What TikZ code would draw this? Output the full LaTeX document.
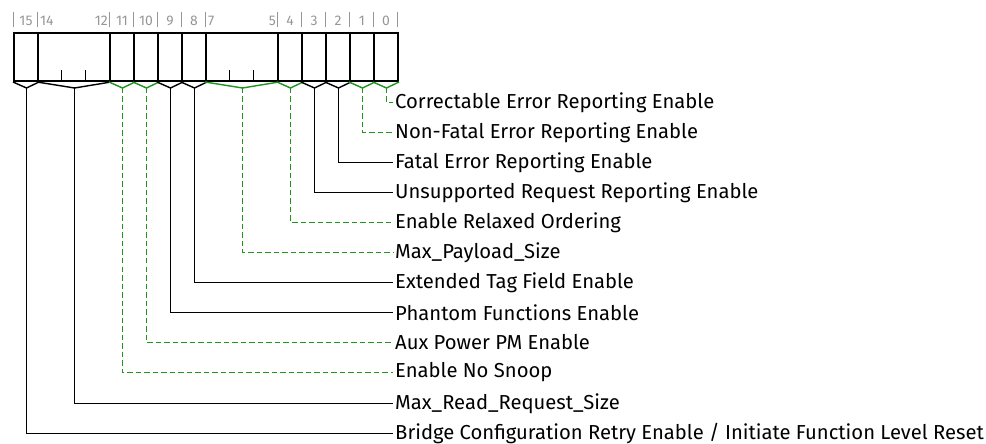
\documentclass[tikz,border=0pt]{standalone}
\usepackage{fontspec}
\setmainfont{Fira Sans}
\usetikzlibrary{calc}
\definecolor{fldgreen}{RGB}{30,150,30}
\definecolor{numgray}{RGB}{150,150,150}
\tikzset{
  field/.style = {draw, line width=2bp, minimum height=48bp, inner sep=0pt, anchor=north west},
  tick/.style  = {line width=1bp},
  sep/.style   = {draw=numgray, line width=1bp},
  num/.style   = {text=numgray, font=\fontsize{14}{14}\selectfont, inner sep=1pt},
  blk/.style   = {line width=1.4bp, black},
  grn/.style   = {line width=1.4bp, fldgreen},
  lbl/.style   = {anchor=west, inner sep=2bp, font=\fontsize{20.3}{20.3}\selectfont}
}

\begin{document}
\begin{tikzpicture}[x=1bp, y=-1bp]
  \useasboundingbox (0,0) rectangle (986,444);
  % register fields, bit numbers and connectors
  \foreach \hi/\lo/\kind in {15/15/blk, 14/12/blk, 11/11/grn, 10/10/grn,
                             9/9/blk, 8/8/blk, 7/5/grn, 4/4/grn,
                             3/3/blk, 2/2/blk, 1/1/grn, 0/0/grn} {
    \pgfmathsetmacro\xl{13+24*(15-\hi)}
    \pgfmathsetmacro\xw{24*(\hi-\lo+1)}
    \node[field, minimum width=\xw bp] (f\lo) at (\xl,32) {};
    \draw[sep] (\xl,12) -- (\xl,27);
    \ifnum\hi=\lo
      \node[num] (n\lo) at ($(f\lo.north)+(0,-11)$) {\lo};
    \else
      \node[num, anchor=west] (n\hi) at ($(f\lo.north west)+(2,-11)$) {\hi};
      \node[num, anchor=east] (n\lo) at ($(f\lo.north east)+(-2,-11)$) {\lo};
      \foreach \k in {1,...,\numexpr\hi-\lo\relax}
        \draw[tick] ($(f\lo.south west)+(24*\k,0)$) -- ++(0,-12);
    \fi
    \coordinate (v\lo) at ($(f\lo.south)+(0.5,6)$);
    \draw[\kind] (f\lo.south west) -- (v\lo) -- (f\lo.south east);
  }
  \draw[sep] (397,12) -- (397,27);
  % field names
  \foreach \lo/\row/\txt in {
      0/0/{Correctable Error Reporting Enable},
      1/1/{Non-Fatal Error Reporting Enable},
      2/2/{Fatal Error Reporting Enable},
      3/3/{Unsupported Request Reporting Enable},
      4/4/{Enable Relaxed Ordering},
      5/5/{Max\_Payload\_Size},
      8/6/{Extended Tag Field Enable},
      9/7/{Phantom Functions Enable},
      10/8/{Aux Power PM Enable},
      11/9/{Enable No Snoop},
      12/10/{Max\_Read\_Request\_Size},
      15/11/{Bridge Configuration Retry Enable / Initiate Function Level Reset}} {
    \pgfmathsetmacro\yy{round(102+30.05*\row)+0.5}
    \node[lbl] (l\lo) at (393,\yy) {\txt};
  }
  % connectors to the names
  \foreach \lo in {0,1,4,5,10,11}
    \draw[grn, dash pattern=on 5.5bp off 3bp] (v\lo) |- (l\lo.west);
  \foreach \lo in {2,3,8,9,12,15}
    \draw[blk] (v\lo) |- (l\lo.west);
\end{tikzpicture}
\end{document}
